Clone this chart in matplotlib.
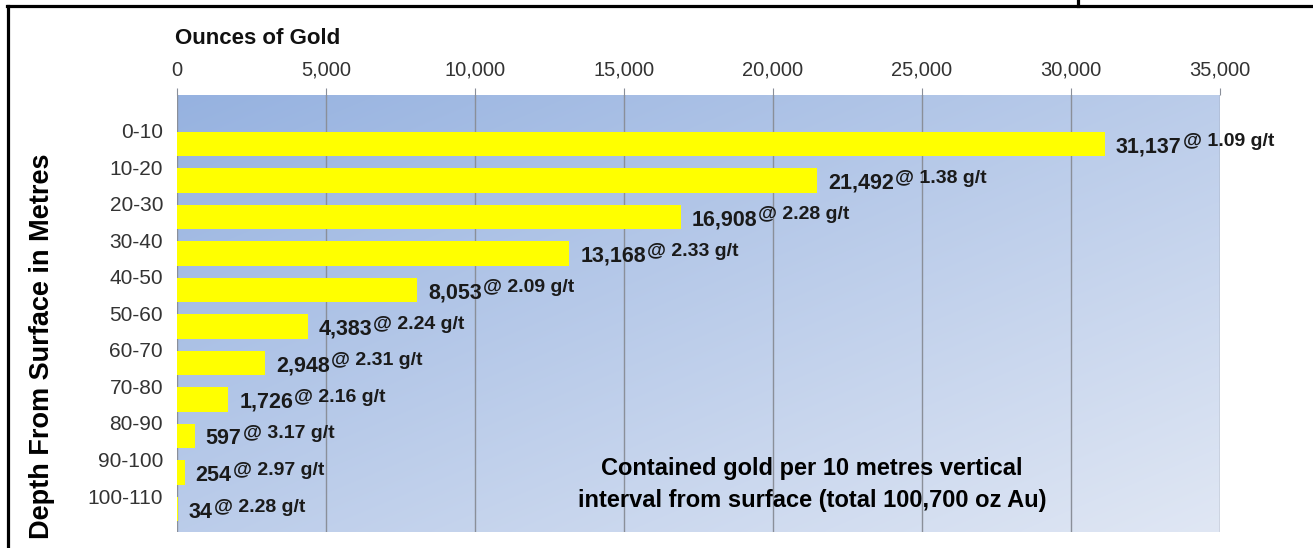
import numpy as np
import matplotlib
matplotlib.use("Agg")
import matplotlib.pyplot as plt
from matplotlib.lines import Line2D
from matplotlib.transforms import ScaledTranslation

plt.rcParams['font.family'] = ['Liberation Sans', 'DejaVu Sans']

depths = ["0-10", "10-20", "20-30", "30-40", "40-50", "50-60",
          "60-70", "70-80", "80-90", "90-100", "100-110"]
ounces = [31137, 21492, 16908, 13168, 8053, 4383, 2948, 1726, 597, 254, 34]
grades = [1.09, 1.38, 2.28, 2.33, 2.09, 2.24, 2.31, 2.16, 3.17, 2.97, 2.28]
xticks = [0, 5000, 10000, 15000, 20000, 25000, 30000, 35000]

W, H = 1313, 548
fig = plt.figure(figsize = (W / 100, H / 100), dpi = 100)
ax = fig.add_axes([177 / W, 1 - 532 / H, (1220 - 177) / W, (532 - 95) / H])

# diagonal blue gradient background, darker at the top left
n = 200
gx, gy = np.meshgrid(np.linspace(0, 1, n), np.linspace(0, 1, n))
t = np.clip(0.5 * gy + 0.5 * gx, 0, 1)[..., None]
c0 = np.array([150, 178, 224]) / 255
c1 = np.array([224, 231, 244]) / 255
grad = c0 * (1 - t) + c1 * t
ax.imshow(grad, extent = [0, 1, 0, 1], transform = ax.transAxes, origin = 'upper',
          aspect = 'auto', zorder = 0, interpolation = 'bilinear')

y = np.arange(len(depths))
ax.barh(y, ounces, height = 0.68, color = '#FFFF00', zorder = 3)

for x in xticks:
  ax.axvline(x, color = '#8a8f99', lw = 1, zorder = 2)

ax.set_xlim(0, 35000)
ax.set_ylim(10.63, -1.34)
ax.xaxis.tick_top()
ax.set_xticks(xticks)
ax.set_xticklabels(["{:,d}".format(v) for v in xticks], fontsize = 14.5, color = '#333333')
ax.tick_params(axis = 'x', length = 5, color = '#8a8f99', pad = 6)
ax.set_yticks(y)
ax.set_yticklabels(depths, fontsize = 15, color = '#333333')
ax.tick_params(axis = 'y', length = 0, pad = 10)
off = ScaledTranslation(0, 13 / 100, fig.dpi_scale_trans)
for lbl in ax.get_yticklabels():
  lbl.set_transform(lbl.get_transform() + off)

for s in ax.spines.values():
  s.set_visible(False)

for i, (v, g) in enumerate(zip(ounces, grades)):
  num = ax.annotate("{:,d}".format(v), (v, i), xytext = (11, -3), textcoords = 'offset pixels',
                    ha = 'left', va = 'center', fontsize = 15.5, fontweight = 'bold',
                    zorder = 5, color = '#1a1a1a')
  ax.annotate("@ {:.2f} g/t".format(g), xy = (1, 0.5), xycoords = num, xytext = (1, 5),
              textcoords = 'offset pixels', ha = 'left', va = 'center', color = '#1a1a1a',
              fontsize = 14, fontweight = 'bold', zorder = 5, annotation_clip = False)

fig.text(812 / W, 1 - 484 / H,
         "Contained gold per 10 metres vertical\ninterval from surface (total 100,700 oz Au)",
         ha = 'center', va = 'center', fontsize = 17, fontweight = 'bold', linespacing = 1.5)

fig.text(175 / W, 1 - 38 / H, "Ounces of Gold", ha = 'left', va = 'center',
         fontsize = 16, fontweight = 'bold', color = '#111111')
fig.text(42 / W, 1 - 346 / H, "Depth From Surface in Metres", rotation = 90,
         ha = 'center', va = 'center', fontsize = 19.5, fontweight = 'bold')

# frame around the figure cell
fig.add_artist(Line2D([8 / W, 8 / W], [0, 1 - 6 / H], color = 'black', lw = 2.3))
fig.add_artist(Line2D([7 / W, 1], [1 - 6 / H, 1 - 6 / H], color = 'black', lw = 2.3))
fig.add_artist(Line2D([1078 / W, 1078 / W], [1 - 6 / H, 1], color = 'black', lw = 2.3))

fig.savefig("out.png", dpi = 100)
